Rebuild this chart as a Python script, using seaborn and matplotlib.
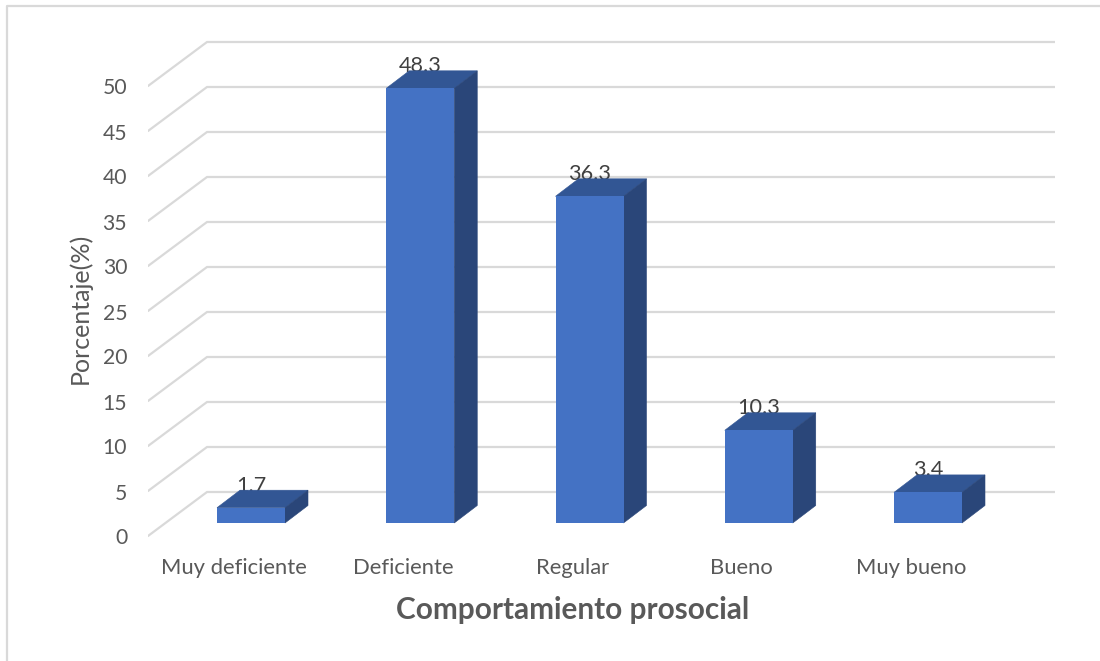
import numpy as np
import pandas as pd
import seaborn as sns
import matplotlib.pyplot as plt
from matplotlib.lines import Line2D
from matplotlib.patches import Polygon

categories = ["Muy deficiente", "Deficiente", "Regular", "Bueno", "Muy bueno"]
values = [1.7, 48.3, 36.3, 10.3, 3.4]
y_ticks = [0, 5, 10, 15, 20, 25, 30, 35, 40, 45, 50]

# size of one unit on each axis, in pixels, used to fake the 3d look
PX_X = 169.25
PX_Y = 9.0
BAR_WIDTH = 68 / PX_X
DEPTH_X = 23 / PX_X
DEPTH_Y = 17.5 / PX_Y
FRONT_Y = -13 / PX_Y
BACK_Y = 31 / PX_Y
LABEL_Y = -13.5 / PX_Y
XMIN = (148 - 251) / PX_X
XWALL = (207 - 251) / PX_X
XMAX = (1055 - 251) / PX_X

sns.set_style("white")
plt.rcParams["font.family"] = ["Lato", "DejaVu Sans"]

GREY = "#595959"
FRONT = "#4472C4"
TOP = "#325694"
SIDE = "#2A4679"


def draw_walls(ax):
    for t in y_ticks:
        ax.plot([XMIN, XWALL, XMAX], [t + FRONT_Y, t + BACK_Y, t + BACK_Y],
                color="#D9D9D9", lw=1.6, zorder=1, solid_joinstyle="miter")


def draw_bars(ax):
    data = pd.DataFrame({"cat": categories, "val": values})
    sns.barplot(data=data, x="cat", y="val", color=FRONT, saturation=1,
                width=BAR_WIDTH, linewidth=0, ax=ax, zorder=5)

    for i, v in enumerate(values):
        ax.text(i, v + DEPTH_Y - 0.15, f"{v}", ha="center", va="baseline",
                fontsize=15.6, color="#404040", zorder=3)

        left = i - BAR_WIDTH / 2
        right = i + BAR_WIDTH / 2
        top = [(left, v), (right, v), (right + DEPTH_X, v + DEPTH_Y), (left + DEPTH_X, v + DEPTH_Y)]
        side = [(right, 0), (right + DEPTH_X, DEPTH_Y), (right + DEPTH_X, v + DEPTH_Y), (right, v)]
        ax.add_patch(Polygon(top, closed=True, fc=TOP, ec=TOP, lw=0.4, zorder=4))
        ax.add_patch(Polygon(side, closed=True, fc=SIDE, ec=SIDE, lw=0.4, zorder=4))


def main():
    fig = plt.figure(figsize=(11, 6.61), dpi=100)
    ax = fig.add_axes([148 / 1100, 1 - 540 / 661, 907 / 1100, 520 / 661])

    draw_walls(ax)
    draw_bars(ax)

    ax.set_xlim(XMIN, XMAX)
    ax.set_ylim((523 - 540) / PX_Y, (523 - 20) / PX_Y)

    ax.set_yticks(np.array(y_ticks) + LABEL_Y, labels=y_ticks)
    ax.set_xticks(np.arange(len(categories)) - 17 / PX_X, labels=categories)
    ax.tick_params(axis="y", length=0, pad=15, labelsize=15.2, labelcolor=GREY)
    ax.tick_params(axis="x", length=0, pad=13, labelsize=15.8, labelcolor=GREY)

    ax.set_xlabel("Comportamiento prosocial", fontsize=21.4, fontweight="bold",
                  color=GREY, x=0.4686, labelpad=13)
    ax.set_ylabel("Porcentaje(%)", fontsize=18, color=GREY, y=0.445, labelpad=8)
    sns.despine(ax=ax, left=True, bottom=True)

    # frame of the picture, only left and top show
    fig.add_artist(Line2D([7 / 1100, 7 / 1100, 1], [0, 1 - 6 / 661, 1 - 6 / 661],
                          color="#D9D9D9", lw=1.6))

    fig.savefig("out.png", dpi=100)


if __name__ == "__main__":
    main()
